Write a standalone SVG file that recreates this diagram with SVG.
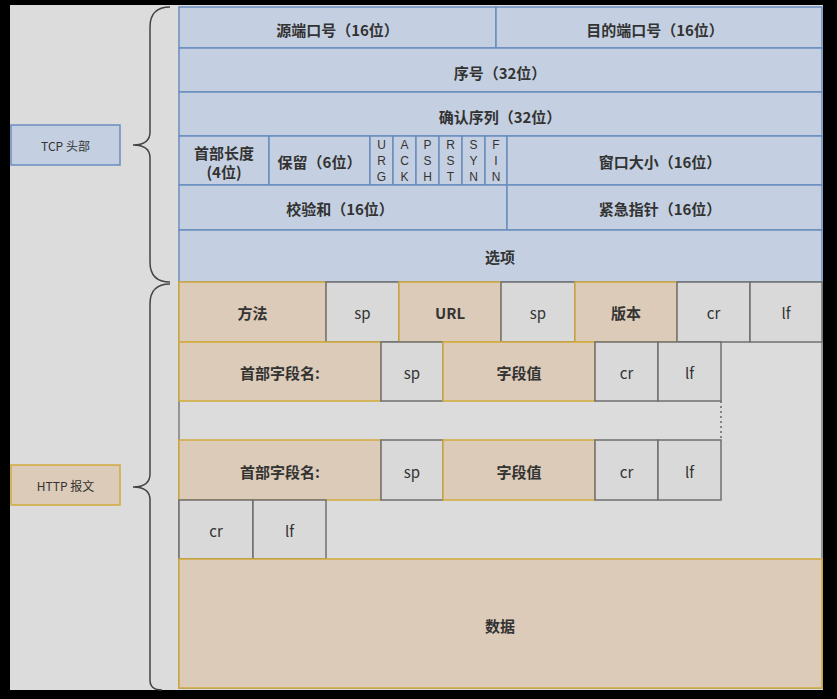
<svg xmlns="http://www.w3.org/2000/svg" width="837" height="699" viewBox="0 0 837 699">
<style>
text{font-family:"Noto Sans CJK SC","Liberation Sans",sans-serif;fill:#333;text-anchor:middle;dominant-baseline:central}
.t{font-size:15px;font-weight:bold}
.s{font-size:15px}
.f{font-size:12px;font-family:"Liberation Sans",sans-serif}
.l{font-size:12px}
.tcp rect{fill:#c4d0e1;stroke:#6a8dbd;stroke-width:1.5}
.tan rect{fill:#dccbb8;stroke:#d1ab3a;stroke-width:1.5}
.gr rect{fill:#d9d9d9;stroke:#6f6f6f;stroke-width:1.5}
.brace{fill:none;stroke:#444;stroke-width:1.5}
</style>
<rect x="0" y="0" width="837" height="699" fill="#000"/>
<rect x="10" y="5" width="813" height="685" fill="#dcdcdc"/>
<rect x="179" y="282" width="643" height="406" fill="none" stroke="#666" stroke-width="1.2"/>

<g id="tcp-label" class="tcp"><rect x="11" y="125" width="109" height="40"/><text class="l" x="65.5" y="145">TCP 头部</text></g>
<g id="http-label" class="tan"><rect x="11" y="465" width="109" height="40"/><text class="l" x="65.5" y="485">HTTP 报文</text></g>

<g id="connectors">
<path class="brace" d="M170,7 Q150,7 150,27 V132 Q150,145 133,145 Q150,145 150,158 V262 Q150,282 170,282"/>
<path class="brace" d="M170,284 Q150,284 150,304 V474 Q150,487 133,487 Q150,487 150,500 V680 Q150,690 162,690"/>
<path d="M721,401 V440" stroke="#666" stroke-width="1.5" stroke-dasharray="2,3"/>
</g>

<g id="tcp" class="tcp">
<g id="src-port"><rect x="179" y="7" width="317" height="41"/><text class="t" x="337.5" y="29">源端口号（16位）</text></g>
<g id="dst-port"><rect x="496" y="7" width="326" height="41"/><text class="t" x="655" y="29">目的端口号（16位）</text></g>
<g id="seq"><rect x="179" y="48" width="643" height="44"/><text class="t" x="500" y="72">序号（32位）</text></g>
<g id="ack"><rect x="179" y="92" width="643" height="44"/><text class="t" x="500" y="116">确认序列（32位）</text></g>
<g id="hlen"><rect x="179" y="136" width="90" height="49"/><text class="t" x="224" y="152">首部长度</text><text class="t" x="224" y="171">(4位)</text></g>
<g id="reserved"><rect x="269" y="136" width="101" height="49"/><text class="t" x="319.5" y="161">保留（6位）</text></g>
<g id="urg"><rect x="370" y="136" width="23" height="49"/><text class="f" x="381.5" y="145">U</text><text class="f" x="381.5" y="161">R</text><text class="f" x="381.5" y="177">G</text></g>
<g id="ackf"><rect x="393" y="136" width="23" height="49"/><text class="f" x="404.5" y="145">A</text><text class="f" x="404.5" y="161">C</text><text class="f" x="404.5" y="177">K</text></g>
<g id="psh"><rect x="416" y="136" width="23" height="49"/><text class="f" x="427.5" y="145">P</text><text class="f" x="427.5" y="161">S</text><text class="f" x="427.5" y="177">H</text></g>
<g id="rst"><rect x="439" y="136" width="23" height="49"/><text class="f" x="450.5" y="145">R</text><text class="f" x="450.5" y="161">S</text><text class="f" x="450.5" y="177">T</text></g>
<g id="syn"><rect x="462" y="136" width="23" height="49"/><text class="f" x="473.5" y="145">S</text><text class="f" x="473.5" y="161">Y</text><text class="f" x="473.5" y="177">N</text></g>
<g id="fin"><rect x="485" y="136" width="22" height="49"/><text class="f" x="496" y="145">F</text><text class="f" x="496" y="161">I</text><text class="f" x="496" y="177">N</text></g>
<g id="window"><rect x="507" y="136" width="315" height="49"/><text class="t" x="660" y="161">窗口大小（16位）</text></g>
<g id="checksum"><rect x="179" y="185" width="328" height="45"/><text class="t" x="340" y="208">校验和（16位）</text></g>
<g id="urgent"><rect x="507" y="185" width="315" height="45"/><text class="t" x="660" y="208">紧急指针（16位）</text></g>
<g id="options"><rect x="179" y="230" width="643" height="52"/><text class="t" x="500" y="256">选项</text></g>
</g>

<g id="http">
<g id="method" class="tan"><rect x="179" y="282" width="147" height="60"/><text class="t" x="252.5" y="312">方法</text></g>
<g id="sp1" class="gr"><rect x="326" y="282" width="73" height="60"/><text class="s" x="362.5" y="312">sp</text></g>
<g id="url" class="tan"><rect x="399" y="282" width="102" height="60"/><text class="t" x="450" y="312">URL</text></g>
<g id="sp2" class="gr"><rect x="501" y="282" width="74" height="60"/><text class="s" x="538" y="312">sp</text></g>
<g id="version" class="tan"><rect x="575" y="282" width="102" height="60"/><text class="t" x="626" y="312">版本</text></g>
<g id="cr1" class="gr"><rect x="677" y="282" width="73" height="60"/><text class="s" x="713.5" y="312">cr</text></g>
<g id="lf1" class="gr"><rect x="750" y="282" width="72" height="60"/><text class="s" x="786" y="312">lf</text></g>

<g id="hname1" class="tan"><rect x="179" y="342" width="202" height="59"/><text class="t" x="280" y="372">首部字段名:</text></g>
<g id="sp3" class="gr"><rect x="381" y="342" width="62" height="59"/><text class="s" x="412" y="372">sp</text></g>
<g id="hval1" class="tan"><rect x="443" y="342" width="152" height="59"/><text class="t" x="519" y="372">字段值</text></g>
<g id="cr2" class="gr"><rect x="595" y="342" width="63" height="59"/><text class="s" x="626.5" y="372">cr</text></g>
<g id="lf2" class="gr"><rect x="658" y="342" width="63" height="59"/><text class="s" x="689.5" y="372">lf</text></g>

<g id="hname2" class="tan"><rect x="179" y="440" width="202" height="60"/><text class="t" x="280" y="471">首部字段名:</text></g>
<g id="sp4" class="gr"><rect x="381" y="440" width="62" height="60"/><text class="s" x="412" y="471">sp</text></g>
<g id="hval2" class="tan"><rect x="443" y="440" width="152" height="60"/><text class="t" x="519" y="471">字段值</text></g>
<g id="cr3" class="gr"><rect x="595" y="440" width="63" height="60"/><text class="s" x="626.5" y="471">cr</text></g>
<g id="lf3" class="gr"><rect x="658" y="440" width="63" height="60"/><text class="s" x="689.5" y="471">lf</text></g>

<g id="cr4" class="gr"><rect x="179" y="500" width="74" height="59"/><text class="s" x="216" y="530">cr</text></g>
<g id="lf4" class="gr"><rect x="253" y="500" width="73" height="59"/><text class="s" x="289.5" y="530">lf</text></g>

<g id="data" class="tan"><rect x="179" y="559" width="643" height="129"/><text class="t" x="500" y="625">数据</text></g>
</g>
</svg>
